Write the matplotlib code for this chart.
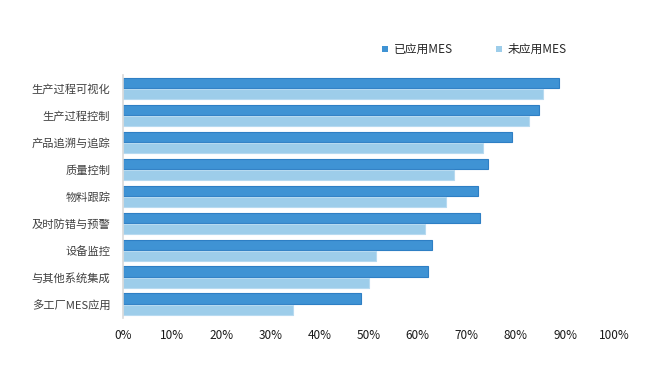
import matplotlib
matplotlib.use("Agg")
import matplotlib.pyplot as plt
from matplotlib.ticker import PercentFormatter
import numpy as np

plt.rcParams['font.family'] = ['Noto Sans CJK SC', 'DejaVu Sans']

categories = ['生产过程可视化', '生产过程控制', '产品追溯与追踪', '质量控制', '物料跟踪',
              '及时防错与预警', '设备监控', '与其他系统集成', '多工厂MES应用']
applied = [88.8, 84.6, 79.1, 74.4, 72.3, 72.6, 62.9, 62.1, 48.5]
not_applied = [85.6, 82.7, 73.2, 67.4, 65.8, 61.5, 51.5, 50.1, 34.7]
series_names = ['已应用MES', '未应用MES']
xticks = [0, 10, 20, 30, 40, 50, 60, 70, 80, 90, 100]

dark = '#3F93D4'
dark_edge = '#2E7FC4'
light = '#9DCDEA'
light_edge = '#B7DAF0'

fig = plt.figure(figsize=(6.5, 3.91), dpi=100)
ax = fig.add_axes([0.189, 0.187, 0.756, 0.621])

y = np.arange(len(categories))
h = 0.39
ax.barh(y - 0.21, applied, height=h, color=dark, edgecolor=dark_edge, linewidth=0.8, label=series_names[0])
ax.barh(y + 0.21, not_applied, height=h, color=light, edgecolor=light_edge, linewidth=0.8, label=series_names[1])

ax.set_ylim(len(categories) - 0.5, -0.5)
ax.set_xlim(0, 100)
ax.set_yticks(y)
ax.set_yticklabels(categories, fontsize=8.1, color='#404040')
ax.set_xticks(xticks)
ax.xaxis.set_major_formatter(PercentFormatter(decimals=0))
ax.tick_params(axis='x', labelsize=8.5, colors='#1a1a1a', length=0, pad=8)
ax.tick_params(axis='y', length=0, pad=9)

for s in ['top', 'right', 'bottom']:
    ax.spines[s].set_visible(False)
ax.spines['left'].set_color('#D9D9D9')
ax.spines['left'].set_linewidth(1.2)

leg = fig.legend(loc='center', bbox_to_anchor=(0.730, 0.873), ncol=2, frameon=False,
                 fontsize=8.5, handlelength=0.5, handleheight=0.5, columnspacing=3.7,
                 handletextpad=0.45, labelcolor='#262626')
for p in leg.get_patches():
    p.set_edgecolor('none')

fig.savefig('out.png', dpi=100)
